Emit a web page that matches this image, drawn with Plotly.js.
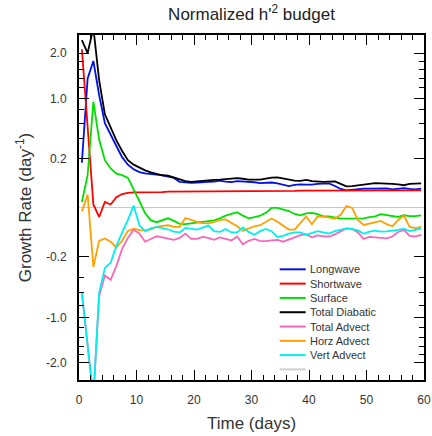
<!DOCTYPE html>
<html>
<head>
<meta charset="utf-8">
<script src="https://cdn.plot.ly/plotly-3.0.1.min.js"></script>
<style>html,body{margin:0;padding:0;background:#fff;}#chart{width:432px;height:436px;}</style>
</head>
<body>
<div id="chart"></div>
<script>
// ---- data (time in days, growth rates in day^-1) ----
const time = [0.5,1.5,2.5,3.5,4.5,5.5,6.5,7.5,8.5,9.5,10.5,11.5,12.5,13.5,14.5,15.5,16.5,17.5,18.5,19.5,
  20.5,21.5,22.5,23.5,24.5,25.5,26.5,27.5,28.5,29.5,30.5,31.5,32.5,33.5,34.5,35.5,36.5,37.5,38.5,39.5,
  40.5,41.5,42.5,43.5,44.5,45.5,46.5,47.5,48.5,49.5,50.5,51.5,52.5,53.5,54.5,55.5,56.5,57.5,58.5,59.5];

const longwave = [0.17,1.4,1.8,1.06,0.6,0.44,0.32,0.215,0.156,0.125,0.107,0.1,0.098,0.092,0.088,0.083,0.075,0.057,0.053,0.052,
  0.054,0.057,0.057,0.058,0.062,0.058,0.056,0.06,0.059,0.057,0.055,0.051,0.052,0.054,0.05,0.045,0.04,0.044,0.046,0.045,
  0.045,0.048,0.05,0.05,0.04,0.03,0.026,0.028,0.03,0.031,0.031,0.031,0.033,0.032,0.029,0.031,0.033,0.03,0.029,0.031];

const shortwave = [2.1,0.6,0.001,-0.0068,0.003,0.001,0.0096,0.016,0.019,0.02,0.02,0.021,0.021,0.021,0.021,0.022,0.022,0.022,0.022,0.022,
  0.023,0.023,0.023,0.023,0.023,0.023,0.023,0.024,0.024,0.024,0.024,0.024,0.024,0.024,0.024,0.024,0.024,0.024,0.025,0.025,
  0.025,0.025,0.025,0.025,0.025,0.025,0.025,0.025,0.025,0.025,0.026,0.026,0.026,0.026,0.026,0.026,0.026,0.026,0.026,0.026];

const surface = [0.003,0.09,0.94,0.39,0.19,0.13,0.098,0.09,0.075,0.03,0.004,-0.0024,-0.013,-0.017,-0.013,-0.009,-0.014,-0.021,-0.022,-0.02,
  -0.019,-0.017,-0.016,-0.013,-0.009,-0.005,-0.003,-0.0015,-0.005,-0.009,-0.007,-0.005,-0.002,0.0,0.0,-0.0002,-0.0008,-0.003,-0.0045,-0.0025,
  -0.002,-0.0033,-0.0058,-0.006,-0.008,-0.0094,-0.0094,-0.0094,-0.0094,-0.009,-0.0072,-0.0058,-0.0033,-0.0045,-0.006,-0.0068,-0.0045,-0.0055,-0.0055,-0.0045];

const totalDiabatic = [2.35,2.0,2.7,1.36,0.73,0.53,0.38,0.27,0.19,0.156,0.135,0.118,0.105,0.095,0.089,0.087,0.078,0.067,0.06,0.057,
  0.06,0.062,0.064,0.066,0.067,0.07,0.072,0.074,0.071,0.067,0.067,0.067,0.072,0.077,0.078,0.072,0.065,0.062,0.061,0.066,
  0.06,0.057,0.057,0.058,0.059,0.048,0.039,0.04,0.042,0.045,0.048,0.051,0.05,0.05,0.048,0.046,0.043,0.048,0.05,0.05];

const totalAdvect = [-0.6,-1.6,-3.0,-0.65,-0.38,-0.43,-0.28,-0.14,-0.075,-0.04,-0.055,-0.095,-0.08,-0.067,-0.072,-0.078,-0.085,-0.075,-0.055,-0.08,
  -0.08,-0.07,-0.075,-0.085,-0.072,-0.08,-0.088,-0.068,-0.11,-0.09,-0.08,-0.09,-0.092,-0.088,-0.085,-0.095,-0.085,-0.072,-0.062,-0.058,
  -0.072,-0.063,-0.067,-0.068,-0.058,-0.045,-0.035,-0.037,-0.05,-0.08,-0.07,-0.072,-0.074,-0.077,-0.068,-0.048,-0.04,-0.065,-0.068,-0.06];

const horzAdvect = [-0.001,0.015,-0.29,-0.09,-0.078,-0.095,-0.13,-0.09,-0.044,-0.036,-0.041,-0.042,-0.038,-0.03,-0.027,-0.025,-0.03,-0.03,-0.0084,-0.012,
  -0.016,-0.019,-0.02,-0.016,-0.012,-0.011,-0.018,-0.028,-0.043,-0.035,-0.028,-0.025,-0.016,-0.0094,-0.016,-0.026,-0.039,-0.039,-0.02,-0.006,
  -0.022,-0.006,-0.0064,-0.0075,-0.0094,-0.004,0.0003,0.0,-0.012,-0.024,-0.02,-0.017,-0.014,-0.022,-0.028,-0.012,-0.005,-0.03,-0.034,-0.03];

const vertAdvect = [-0.6,-1.55,-3.0,-0.6,-0.3,-0.25,-0.12,-0.05,-0.012,0.0005,-0.025,-0.045,-0.035,-0.03,-0.033,-0.038,-0.047,-0.05,-0.033,-0.035,
  -0.039,-0.032,-0.026,-0.045,-0.048,-0.037,-0.05,-0.05,-0.032,-0.048,-0.06,-0.045,-0.037,-0.045,-0.07,-0.065,-0.055,-0.05,-0.05,-0.06,
  -0.052,-0.045,-0.05,-0.055,-0.045,-0.04,-0.035,-0.037,-0.042,-0.056,-0.047,-0.043,-0.047,-0.046,-0.044,-0.04,-0.036,-0.045,-0.04,-0.035];

const seriesNames = ['Longwave','Shortwave','Surface','Total Diabatic','Total Advect','Horz Advect','Vert Advect'];
const seriesColors = ['#0010e8','#ff0000','#00e000','#000000','#f868b8','#ffa000','#00f0f0'];
const seriesData = [longwave, shortwave, surface, totalDiabatic, totalAdvect, horzAdvect, vertAdvect];

const yTickValues = [2.0, 1.0, 0.2, -0.2, -1.0, -2.0];
const yTickLabels = ['2.0','1.0','0.2','-0.2','-1.0','-2.0'];
const yMinorValues = [1.8,1.6,1.4,1.2,0.8,0.6,0.4,-0.4,-0.6,-0.8,-1.2,-1.4,-1.6,-1.8];
const xTickValues = [0,10,20,30,40,50,60];
const xMinorValues = [2,4,6,8,12,14,16,18,22,24,26,28,32,34,36,38,42,44,46,48,52,54,56,58];

// signed square-root axis transform (the chart uses a sqrt-stretched y scale)
const sq = v => Math.sign(v) * Math.sqrt(Math.abs(v));

const font = 'Liberation Sans, Arial, sans-serif';

const traces = seriesData.map((d, i) => ({
  x: time, y: d.map(sq), type: 'scatter', mode: 'lines', name: seriesNames[i],
  line: {color: seriesColors[i], width: 1.8}, hoverinfo: 'skip'
}));

// legend drawn inside the plot as line samples + text
const shapes = [];
const annotations = [];
const legTop = 0.3208, legStep = 0.04145;
seriesNames.forEach((n, i) => {
  const yy = legTop - i * legStep;
  shapes.push({type:'line', xref:'paper', yref:'paper', x0:0.5817, x1:0.657, y0:yy, y1:yy,
    line:{color: seriesColors[i], width:2}});
  annotations.push({xref:'paper', yref:'paper', x:0.664, y:yy, xanchor:'left', yanchor:'middle',
    text:n, showarrow:false, font:{family:font, size:11, color:'#333'}});
});
const yg = legTop - seriesNames.length * legStep;
shapes.push({type:'line', xref:'paper', yref:'paper', x0:0.5817, x1:0.657, y0:yg, y1:yg,
  line:{color:'#d0d0d0', width:2}});

const layout = {
  width: 432, height: 436,
  margin: {l: 79, r: 8, t: 35, b: 56, pad: 0},
  paper_bgcolor: '#fff', plot_bgcolor: '#fff',
  showlegend: false,
  font: {family: font, color: '#333'},
  title: {text: "Normalized h'<sup>2</sup> budget", x: 0.5, xref: 'paper', xanchor: 'center',
    y: 0.967, yref: 'container', yanchor: 'middle', font: {family: font, size: 17, color: '#222'}},
  xaxis: {
    range: [0, 60], tickmode: 'array', tickvals: xTickValues, ticktext: xTickValues.map(String),
    ticks: 'inside', ticklen: 10, tickwidth: 1, tickcolor: '#000',
    showline: true, linecolor: '#000', linewidth: 2, mirror: 'ticks',
    showgrid: false, zeroline: false,
    minor: {tickmode: 'array', tickvals: xMinorValues, ticks: 'inside', ticklen: 5, tickwidth: 1, tickcolor: '#000', showgrid: false},
    tickfont: {family: font, size: 12, color: '#333'}, ticklabelstandoff: 8,
    title: {text: 'Time (days)', font: {family: font, size: 17, color: '#333'}, standoff: 11}
  },
  yaxis: {
    range: [-1.571, 1.579], tickmode: 'array', tickvals: yTickValues.map(sq), ticktext: yTickLabels,
    ticks: 'inside', ticklen: 10, tickwidth: 1, tickcolor: '#000',
    showline: true, linecolor: '#000', linewidth: 2, mirror: 'ticks',
    showgrid: false, zeroline: true, zerolinecolor: '#c8c8c8', zerolinewidth: 1,
    minor: {tickmode: 'array', tickvals: yMinorValues.map(sq), ticks: 'inside', ticklen: 5, tickwidth: 1, tickcolor: '#000', showgrid: false},
    tickfont: {family: font, size: 12, color: '#333'}, ticklabelstandoff: 8,
    title: {text: 'Growth Rate (day<sup>-1</sup>)', font: {family: font, size: 17, color: '#333'}, standoff: 10}
  },
  shapes: shapes,
  annotations: annotations
};

Plotly.newPlot('chart', traces, layout, {staticPlot: true, displayModeBar: false});
</script>
</body>
</html>
